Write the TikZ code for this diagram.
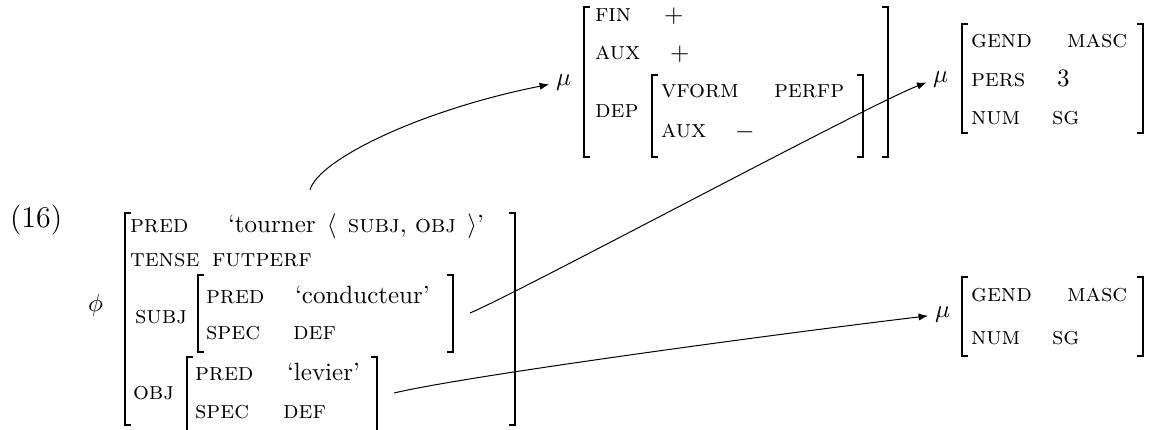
\documentclass[tikz,border=0pt]{standalone}
\usepackage{fontspec}
\usetikzlibrary{arrows.meta}
\newfontfamily\lblfontfam{lmromancaps10-regular.otf}
\newcommand\lblfont{\lblfontfam\fontsize{10}{12}\selectfont}
\newcommand\textlbl[1]{{\lblfont #1}}
\newcommand\avmLB[3]{\draw[brk] ({#1+6},#2) -- (#1,#2) -- (#1,#3) -- ({#1+6},#3);}
\newcommand\avmRB[3]{\draw[brk] ({#1-6},#2) -- (#1,#2) -- (#1,#3) -- ({#1-6},#3);}
\begin{document}
\begin{tikzpicture}[x=0.4pt,y=-0.4pt,
  lbl/.style={anchor=base west,inner sep=0pt,outer sep=0pt,font=\lblfont},
  val/.style={anchor=base west,inner sep=0pt,outer sep=0pt,font=\fontsize{10}{12}\selectfont},
  brk/.style={line width=0.8pt},
  conn/.style={line width=0.4pt,-{Latex[length=3.8pt,width=2.9pt]},shorten >=2.8pt}]
\useasboundingbox (0,0) rectangle (1151,430);
% main f-structure
\node[val,font=\fontsize{12}{14}\selectfont] (ex) at (10,228) {(16)};
\node[val] (phi) at (88,312) {$\phi$};
\avmLB{125}{213}{425}
\avmRB{515}{213}{425}
\node[lbl] (mpred) at (130,233) {pred};
\node[val] (tourner) at (228,233) {`tourner\hspace{4.5pt}$\langle$\hspace{4.5pt}\textlbl{subj}, \textlbl{obj}\hspace{4.5pt}$\rangle$'};
\node[lbl] (tense) at (130,267) {tense};
\node[lbl] (futperf) at (212,267) {futperf};
\node[lbl] (subj) at (135,324) {subj};
\avmLB{198}{275}{352}
\avmRB{453}{275}{352}
\node[lbl] (spred) at (206,304) {pred};
\node[val] (cond) at (295,304) {`conducteur'};
\node[lbl] (sspec) at (206,340) {spec};
\node[lbl] (sdef) at (293,340) {def};
\node[lbl] (obj) at (133,400) {obj};
\draw[brk] (193,357) -- (187,357) -- (187,440);
\draw[brk] (371,357) -- (377,357) -- (377,440);
\node[lbl] (opred) at (195,381) {pred};
\node[val] (levier) at (287,381) {`levier'};
\node[lbl] (ospec) at (195,419) {spec};
\node[lbl] (odef) at (283,419) {def};
% top mu
\node[val] (mu1) at (556,86) {$\mu$};
\avmLB{584}{7}{157}
\avmRB{888}{7}{157}
\node[lbl] (fin) at (595,22) {fin};
\node[val] (finv) at (664,23) {$+$};
\node[lbl] (aux1) at (595,60) {aux};
\node[val] (aux1v) at (670,61) {$+$};
\node[lbl] (dep) at (595,118) {dep};
\avmLB{652}{75}{157}
\avmRB{863}{75}{157}
\node[lbl] (vform) at (661,98) {vform};
\node[lbl] (perfp) at (774,98) {perfp};
\node[lbl] (aux2) at (661,138) {aux};
\node[val] (aux2v) at (735,139) {$-$};
% right top mu
\node[val] (mu2) at (933,83) {$\mu$};
\avmLB{962}{24}{133}
\avmRB{1143}{24}{133}
\node[lbl] (g1) at (971,48) {gend};
\node[lbl] (g1v) at (1067,48) {masc};
\node[lbl] (p1) at (971,87) {pers};
\node[val] (p1v) at (1057,87) {3};
\node[lbl] (n1) at (971,125) {num};
\node[lbl] (n1v) at (1052,125) {sg};
% bottom right mu
\node[val] (mu3) at (935,318) {$\mu$};
\avmLB{962}{277}{356}
\avmRB{1143}{277}{356}
\node[lbl] (g2) at (971,302) {gend};
\node[lbl] (g2v) at (1067,302) {masc};
\node[lbl] (n2) at (971,345) {num};
\node[lbl] (n2v) at (1052,345) {sg};
% connectors
\coordinate (tstart) at (310,190);
\coordinate (subjR) at (470,313);
\coordinate (objR) at (394,393);
\draw[conn] (tstart) .. controls (318,160) and (420,110) .. (mu1.west);
\draw[conn] (subjR) .. controls (520,292) and (870,104) .. (mu2.west);
\draw[conn] (objR) .. controls (470,375) and (800,331) .. (mu3.west);
\end{tikzpicture}
\end{document}
